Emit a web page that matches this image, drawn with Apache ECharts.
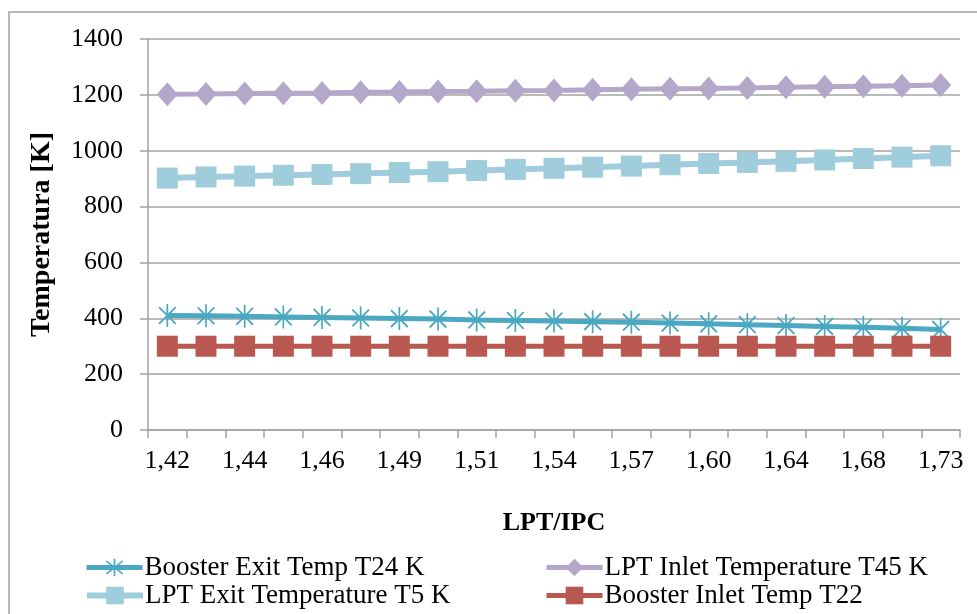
<!DOCTYPE html>
<html>
<head>
<meta charset="utf-8">
<script src="https://cdn.jsdelivr.net/npm/echarts@6/dist/echarts.min.js"></script>
<style>
  html, body { margin: 0; padding: 0; background: #fff; }
  #chart { width: 977px; height: 614px; }
</style>
</head>
<body>
<div id="chart"></div>
<script>
// LPT/IPC work-split ratio on the category axis
const ratios = ['1,42','1,43','1,44','1,45','1,46','1,48','1,49','1,50','1,51','1,53','1,54',
                '1,56','1,57','1,59','1,60','1,62','1,64','1,66','1,68','1,71','1,73'];

// Station temperatures [K]
const boosterExitT24 = [410,409,407,405,403,401,399,397,394,392,390,388,386,383,380,377,374,371,368,364,360];
const lptInletT45    = [1202,1203,1205,1206,1207,1209,1210,1212,1213,1215,1216,1218,1220,1222,1223,1225,1227,1229,1231,1233,1235];
const lptExitT5      = [902,906,909,912,915,918,922,925,929,933,937,941,945,950,954,958,962,967,972,977,982];
const boosterInletT22= [300,300,300,300,300,300,300,300,300,300,300,300,300,300,300,300,300,300,300,300,300];

const yTicks = { min: 0, max: 1400, step: 200 };

const serif = '"Liberation Serif", "DejaVu Serif", serif';
const gridGray = '#a3a3a3';

// six-armed asterisk marker
const asterisk = 'path://M9.1 0L10.9 0L10.9 22L9.1 22Z' +
                 'M0.6 3.6L1.9 2.3L19.4 18.4L18.1 19.7Z' +
                 'M18.1 2.3L19.4 3.6L1.9 19.7L0.6 18.4Z';

// one legend entry per slot of the two-column key
function legendSlot(name, left, top) {
  return {
    data: [name],
    left: left, top: top,
    padding: 0,
    itemWidth: 56, itemHeight: 22,
    lineStyle: { width: 'inherit' },
    textStyle: { fontFamily: serif, fontSize: 27, color: '#000', padding: [0, 0, 0, -3] }
  };
}

const chart = echarts.init(document.getElementById('chart'));

chart.setOption({
  backgroundColor: '#fff',
  animation: false,
  graphic: [{
    type: 'rect',
    shape: { x: 9, y: 12, width: 1000, height: 700 },
    style: { fill: 'none', stroke: '#a0a0a0', lineWidth: 1.5 },
    silent: true
  }],
  grid: { left: 148, right: 17, top: 39, bottom: 184 },
  xAxis: {
    type: 'category',
    data: ratios,
    boundaryGap: true,
    name: 'LPT/IPC',
    nameLocation: 'middle',
    nameGap: 80,
    nameTextStyle: { fontFamily: serif, fontWeight: 'bold', fontSize: 26, color: '#000' },
    axisLine: { lineStyle: { color: gridGray, width: 1.5 } },
    axisTick: { show: true, interval: 0, length: 8, lineStyle: { color: gridGray, width: 1.5 } },
    axisLabel: { interval: 1, margin: 18, fontFamily: serif, fontSize: 26, color: '#000' }
  },
  yAxis: {
    type: 'value',
    min: yTicks.min,
    max: yTicks.max,
    interval: yTicks.step,
    name: 'Temperatura [K]',
    nameLocation: 'middle',
    nameGap: 92,
    nameRotate: 90,
    nameTextStyle: { fontFamily: serif, fontWeight: 'bold', fontSize: 28, color: '#000' },
    axisLine: { show: true, lineStyle: { color: gridGray, width: 1.5 } },
    axisTick: { show: true, length: 8, lineStyle: { color: gridGray, width: 1.5 } },
    axisLabel: { margin: 25, fontFamily: serif, fontSize: 26, color: '#000', formatter: v => String(v) },
    splitLine: { lineStyle: { color: gridGray, width: 1.5 } }
  },
  legend: [
    legendSlot('Booster Exit Temp T24 K', 84, 554),
    legendSlot('LPT Inlet Temperature T45 K', 544, 554),
    legendSlot('LPT Exit Temperature T5 K', 84, 582),
    legendSlot('Booster Inlet Temp T22', 544, 582)
  ],
  series: [
    {
      name: 'Booster Exit Temp T24 K',
      type: 'line',
      data: boosterExitT24,
      symbol: asterisk,
      symbolSize: [21, 23],
      symbolKeepAspect: true,
      lineStyle: { color: '#4aa8c2', width: 5 },
      itemStyle: { color: '#4aa8c2' }
    },
    {
      name: 'LPT Inlet Temperature T45 K',
      type: 'line',
      data: lptInletT45,
      symbol: 'diamond',
      symbolSize: [21, 24],
      lineStyle: { color: '#b3a8c9', width: 5 },
      itemStyle: { color: '#b3a8c9' }
    },
    {
      name: 'LPT Exit Temperature T5 K',
      type: 'line',
      data: lptExitT5,
      symbol: 'rect',
      symbolSize: 21,
      lineStyle: { color: '#a0cddc', width: 6 },
      itemStyle: { color: '#a0cddc' }
    },
    {
      name: 'Booster Inlet Temp T22',
      type: 'line',
      data: boosterInletT22,
      symbol: 'rect',
      symbolSize: 21,
      lineStyle: { color: '#b95850', width: 5 },
      itemStyle: { color: '#b95850' }
    }
  ]
});
</script>
</body>
</html>
